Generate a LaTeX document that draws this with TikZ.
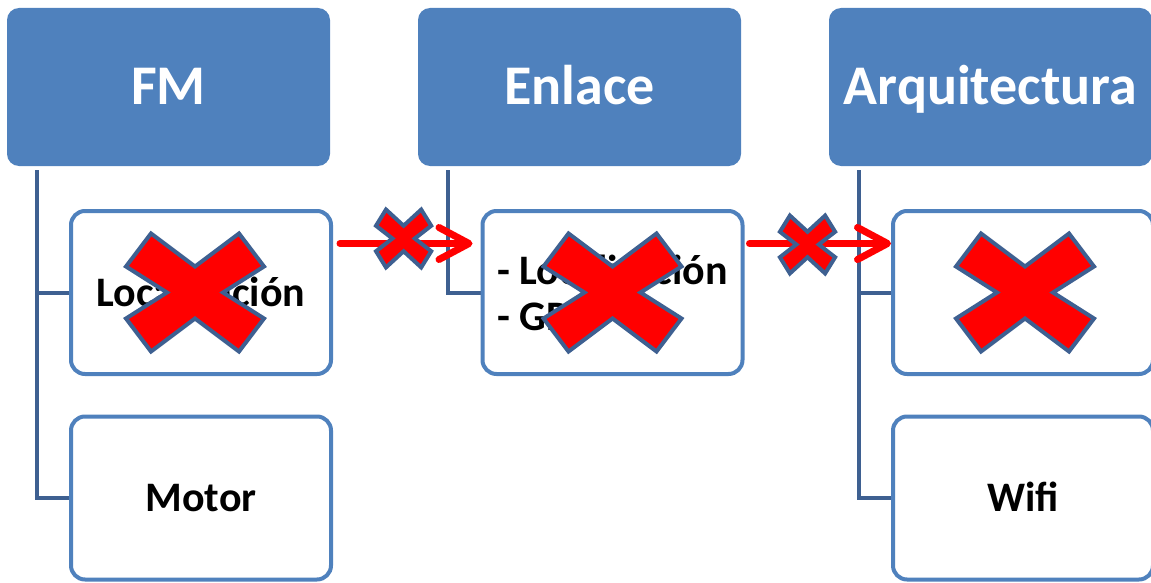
\documentclass[tikz,border=0pt]{standalone}
\usepackage{fontspec}
\setmainfont{Carlito}
\usetikzlibrary{arrows.meta}
\definecolor{HeadBlue}{RGB}{79,129,189}
\definecolor{LineBlue}{RGB}{62,96,145}
\definecolor{CrossRed}{RGB}{255,0,0}

\tikzset{
  head/.style={rounded corners=12pt, fill=HeadBlue, text=white, inner sep=0pt,
    font=\fontsize{56}{60}\selectfont\bfseries, text height=36pt, text depth=0pt,
    minimum width=323pt, minimum height=158pt},
  item/.style={rounded corners=14pt, draw=HeadBlue, line width=4pt, fill=white, inner sep=0pt,
    font=\fontsize{42}{46}\selectfont\bfseries, align=left,
    minimum width=260pt, minimum height=163pt},
  oneline/.style={item, text height=27pt, text depth=0pt},
  conn/.style={draw=LineBlue, line width=4pt},
  blocked/.style={draw=CrossRed, line width=7pt, line cap=round,
    -{Straight Barb[length=30pt, width=32pt, round]}},
  crossmark/.pic={
    \draw[draw=LineBlue, line width=4pt, fill=CrossRed]
      (-69,-26) -- (-44,-59) -- (0,-26) -- (44,-59) -- (69,-26) -- (28,0)
      -- (69,26) -- (44,59) -- (0,26) -- (-44,59) -- (-69,26) -- (-28,0) -- cycle;
  }
}

\begin{document}
\begin{tikzpicture}[x=1pt, y=-1pt]
  \useasboundingbox (0,0) rectangle (1151,583);

  % headers
  \node[head] (fm) at (168.5,87) {FM};
  \node[head] (enlace) at (579.5,87) {Enlace};
  \node[head] (arq) at (990.5,87) {Arquitectura};

  % connectors
  \draw[conn] ([shift={(30,4)}]fm.south west) |- (201,292.5);
  \draw[conn] ([shift={(30,4)}]fm.south west) |- (201,498);
  \draw[conn] ([shift={(30,4)}]enlace.south west) |- (612.5,292.5);
  \draw[conn] ([shift={(30,4)}]arq.south west) |- (1023,292.5);
  \draw[conn] ([shift={(30,4)}]arq.south west) |- (1023,498);

  % items
  \node[oneline] (fmloc) at (201,292.5) {Localización};
  \node[oneline] (fmmotor) at (201,498) {Motor};
  \node[item] (enloc) at (612.5,292.5) {- Localización\\- GPS};
  \node[oneline] (arqnone) at (1023,292.5) {};
  \node[oneline] (arqwifi) at (1023,498) {Wifi};

  % blocked links
  \draw[blocked] ([shift={(7,-49)}]fmloc.east) -- coordinate[pos=0.48] (cut1) ([shift={(-8,-49)}]enloc.west);
  \draw[blocked] ([shift={(5,-49)}]enloc.east) -- coordinate[pos=0.41] (cut2) ([shift={(0,-49)}]arqnone.west);
  \pic[xscale=0.4, yscale=0.49] at ([shift={(0,-5)}]cut1) {crossmark};
  \pic[xscale=0.4, yscale=0.49] at ([shift={(0,1)}]cut2) {crossmark};

  % crossed out items
  \pic at ([shift={(-6,0)}]fmloc.center) {crossmark};
  \pic at (enloc.center) {crossmark};
  \pic at ([shift={(2,0)}]arqnone.center) {crossmark};
\end{tikzpicture}
\end{document}
